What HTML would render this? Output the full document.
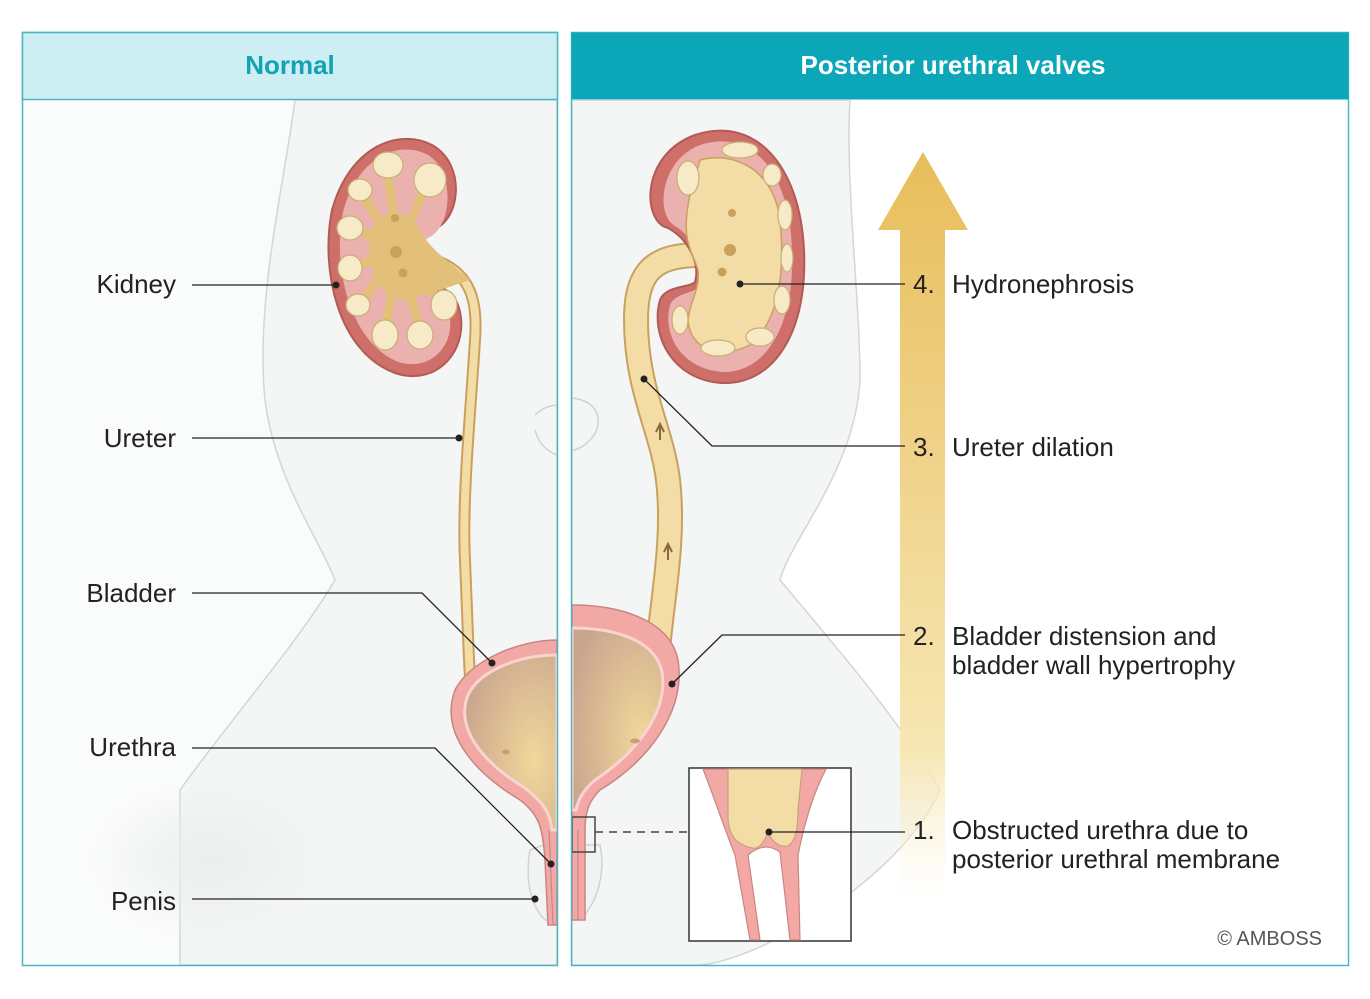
<!DOCTYPE html>
<html><head><meta charset="utf-8"><style>
html,body{margin:0;padding:0;background:#fff;}
svg{display:block;font-family:"Liberation Sans",sans-serif;}
</style></head><body>
<svg width="1370" height="999" viewBox="0 0 1370 999" xmlns="http://www.w3.org/2000/svg">
<defs>
<linearGradient id="arr" x1="0" y1="0" x2="0" y2="1">
<stop offset="0" stop-color="#e8bd5a"/><stop offset="0.45" stop-color="#f0d58e"/><stop offset="0.8" stop-color="#f7e7b4"/><stop offset="1" stop-color="#fbf3dc" stop-opacity="0"/>
</linearGradient>
<radialGradient id="blad" cx="0.75" cy="0.6" r="0.8">
<stop offset="0" stop-color="#f1d79a"/><stop offset="1" stop-color="#c9a58e"/>
</radialGradient>
<radialGradient id="shadow" cx="0.5" cy="0.5" r="0.5">
<stop offset="0" stop-color="#eceeee"/><stop offset="1" stop-color="#eceeee" stop-opacity="0"/>
</radialGradient>
<clipPath id="cl"><rect x="23" y="100" width="534" height="865"/></clipPath>
<clipPath id="cr"><rect x="572" y="100" width="776" height="865"/></clipPath>
</defs>
<rect width="1370" height="999" fill="#fff"/>
<!-- Left panel -->
<g clip-path="url(#cl)">
<rect x="23" y="100" width="534" height="865" fill="#fafbfb"/>
<path d="M295 100 C285 180 255 300 265 400 C275 480 320 540 335 580 C300 640 230 720 180 790 L180 965 L557 965 L557 100 Z" fill="#f4f6f6" stroke="#d3d6d6" stroke-width="1.5"/>
<ellipse cx="210" cy="860" rx="120" ry="80" fill="url(#shadow)"/>
<path d="M535 415 C545 405 557 405 557 405 M535 430 C540 450 557 455 557 455" fill="none" stroke="#cfd3d3" stroke-width="1.5"/>
<path d="M530 850 C525 880 530 905 545 920 L557 920 L557 840 Z" fill="#f1f2f2" stroke="#cfd3d3" stroke-width="1.5"/>
<!-- ureter -->
<path d="M440 262 C470 275 478 300 475 340 C470 420 462 500 465 560 C467 610 468 640 470 680" fill="none" stroke="#c9a15c" stroke-width="12"/>
<path d="M440 262 C470 275 478 300 475 340 C470 420 462 500 465 560 C467 610 468 640 470 680" fill="none" stroke="#f3dca6" stroke-width="8"/>
<!-- kidney -->
<path d="M430 230 C460 225 468 165 432 145 C400 128 350 145 332 210 C320 270 338 352 395 373 C440 388 472 345 458 305 C450 285 430 285 420 275 C415 260 415 240 430 230 Z" fill="#cf6f6a" stroke="#b35a56" stroke-width="2"/>
<path d="M428 238 C452 228 456 172 428 155 C400 140 358 155 343 212 C332 268 350 342 398 362 C434 373 458 340 448 310 C440 295 424 292 412 282 C405 265 410 248 428 238 Z" fill="#eab1ae"/>
<g stroke="#e2c07a" stroke-width="9" stroke-linecap="round" fill="none">
<path d="M398 250 L388 172"/><path d="M398 250 L425 188"/><path d="M398 250 L362 195"/><path d="M398 250 L355 228"/>
<path d="M398 250 L352 268"/><path d="M398 250 L362 302"/><path d="M398 250 L386 330"/><path d="M398 250 L420 330"/><path d="M398 250 L440 302"/>
</g>
<path d="M370 230 C385 205 410 210 420 230 C430 250 450 262 470 280 L440 290 C420 295 410 300 400 300 C380 295 365 270 370 230 Z" fill="#e2c07a"/>
<g fill="#f7ebc7" stroke="#c9ad77" stroke-width="1.2">
<ellipse cx="388" cy="165" rx="15" ry="13"/><ellipse cx="430" cy="180" rx="16" ry="17"/>
<ellipse cx="360" cy="190" rx="12" ry="11"/><ellipse cx="350" cy="228" rx="13" ry="12"/>
<ellipse cx="350" cy="268" rx="12" ry="13"/><ellipse cx="358" cy="305" rx="12" ry="11"/>
<ellipse cx="385" cy="335" rx="13" ry="15"/><ellipse cx="420" cy="335" rx="13" ry="14"/>
<ellipse cx="444" cy="305" rx="13" ry="15"/>
</g>
<g fill="#c9a15c"><circle cx="395" cy="218" r="4"/><circle cx="396" cy="252" r="6"/><circle cx="403" cy="273" r="4.5"/></g>
<!-- bladder -->
<path d="M557 640 C520 640 470 660 455 690 C440 730 470 770 520 800 C540 815 543 830 545 860 L548 925 L557 925 Z" fill="#f2a9a5" stroke="#c98582" stroke-width="1.5"/>
<path d="M557 655 C520 655 480 670 468 695 C455 728 482 762 525 788 C540 800 550 810 552 830 L557 830 Z" fill="url(#blad)" stroke="#fad4d0" stroke-width="3"/>
<path d="M549 830 L553 925" stroke="#c98582" stroke-width="1.2"/>
<ellipse cx="506" cy="752" rx="4" ry="2.5" fill="#c7a07a"/>
</g>
<!-- Right panel -->
<g clip-path="url(#cr)">
<rect x="572" y="100" width="776" height="865" fill="#fff"/>
<path d="M572 100 L850 100 C845 180 860 300 860 380 C855 470 790 540 780 580 C830 640 900 720 940 790 C900 880 760 960 700 965 L572 965 Z" fill="#f4f6f6" stroke="#d3d6d6" stroke-width="1.5"/>
<path d="M572 398 C590 400 600 410 598 425 C595 440 580 450 572 450" fill="none" stroke="#cfd3d3" stroke-width="1.5"/>
<path d="M572 845 L600 845 C605 870 600 900 580 920 L572 920 Z" fill="#f1f2f2" stroke="#cfd3d3" stroke-width="1.5"/>
<!-- arrow -->
<path d="M923 152 L968 230 L945 230 L945 900 L900 900 L900 230 L878 230 Z" fill="url(#arr)"/>
<!-- dilated ureter -->
<path d="M700 255 C655 255 636 270 636 320 C636 390 662 430 668 480 C675 540 662 600 658 650" fill="none" stroke="#c9a15c" stroke-width="26"/>
<path d="M700 255 C655 255 636 270 636 320 C636 390 662 430 668 480 C675 540 662 600 658 650" fill="none" stroke="#f3dca6" stroke-width="22"/>
<path d="M660 440 L660 425 M656 432 L660 424 L664 432 M668 560 L668 545 M664 552 L668 544 L672 552" stroke="#8a6b3a" stroke-width="2" fill="none"/>
<!-- kidney -->
<path d="M668 228 C642 222 640 155 695 135 C755 115 800 165 804 250 C808 330 775 385 722 383 C672 380 650 335 660 300 C666 285 690 288 695 282 C700 265 690 240 668 228 Z" fill="#cf6f6a" stroke="#b35a56" stroke-width="2"/>
<path d="M675 226 C655 215 660 160 700 145 C752 128 790 172 792 250 C795 322 768 372 724 372 C682 370 662 335 670 305 C676 292 694 294 700 286 C706 265 695 238 675 226 Z" fill="#eab1ae"/>
<path d="M700 160 C740 150 775 175 780 220 C785 270 780 320 750 345 C720 360 690 350 688 320 C690 300 700 290 698 270 C692 250 680 240 690 195 Z" fill="#f3dca6" stroke="#c9a15c" stroke-width="1.5"/>
<g fill="#f7ebc7" stroke="#c9ad77" stroke-width="1.2">
<ellipse cx="688" cy="178" rx="11" ry="17"/><ellipse cx="740" cy="150" rx="18" ry="8"/>
<ellipse cx="772" cy="175" rx="9" ry="11"/><ellipse cx="785" cy="215" rx="7" ry="15"/>
<ellipse cx="787" cy="258" rx="6" ry="14"/><ellipse cx="782" cy="300" rx="8" ry="14"/>
<ellipse cx="760" cy="337" rx="14" ry="9"/><ellipse cx="718" cy="348" rx="17" ry="8"/>
<ellipse cx="680" cy="320" rx="8" ry="14"/>
</g>
<g fill="#c9a15c"><circle cx="732" cy="213" r="4"/><circle cx="730" cy="250" r="6"/><circle cx="722" cy="272" r="4.5"/></g>
<!-- bladder -->
<path d="M572 605 C620 605 670 620 678 660 C686 710 650 760 600 790 C590 800 585 810 585 830 L585 920 L572 920 Z" fill="#f2a9a5" stroke="#c98582" stroke-width="1.5"/>
<path d="M572 628 C615 628 655 640 662 672 C668 710 640 750 595 780 C583 790 578 800 576 810 L572 810 Z" fill="url(#blad)" stroke="#fad4d0" stroke-width="3"/>
<ellipse cx="635" cy="741" rx="5" ry="2.5" fill="#c7a07a"/>
<path d="M578 830 L578 920" stroke="#c98582" stroke-width="1.2"/>
<rect x="572" y="817" width="23" height="35" fill="none" stroke="#444" stroke-width="1.5"/>
</g>
<!-- inset -->
<rect x="689" y="768" width="162" height="173" fill="#fff" stroke="#333" stroke-width="1.5"/>
<path d="M703 769 C715 800 725 830 735 855 L750 940 L760 940 L748 855 C760 845 770 845 780 852 L790 940 L800 940 L798 855 C805 820 815 790 826 769 Z" fill="#f2a9a5" stroke="#c98582" stroke-width="1.2"/>
<path d="M728 769 L728 820 C730 840 740 845 752 848 C760 850 765 840 768 832 C771 840 778 848 788 846 C797 840 798 825 798 810 L802 769 Z" fill="#f3dca6" stroke="#c9a080" stroke-width="1.2"/>
<line x1="595" y1="832" x2="689" y2="832" stroke="#444" stroke-width="1.5" stroke-dasharray="8,6"/>
<!-- borders & headers -->
<rect x="22.5" y="32.5" width="535" height="933" fill="none" stroke="#4cb6c4" stroke-width="1.5"/>
<rect x="571.5" y="32.5" width="777" height="933" fill="none" stroke="#4cb6c4" stroke-width="1.5"/>
<rect x="22.5" y="32.5" width="535" height="67" fill="#cdeef2" stroke="#4cb6c4" stroke-width="1.5"/>
<rect x="571.5" y="32.5" width="777" height="67" fill="#0ba6b8"/>
<text x="290" y="74" text-anchor="middle" font-size="26" font-weight="bold" fill="#14a3b4">Normal</text>
<text x="953" y="74" text-anchor="middle" font-size="26" font-weight="bold" fill="#fff">Posterior urethral valves</text>
<!-- left labels -->
<g font-size="26" fill="#222" text-anchor="end">
<text x="176" y="293">Kidney</text><text x="176" y="447">Ureter</text>
<text x="176" y="602">Bladder</text><text x="176" y="756">Urethra</text>
<text x="176" y="910">Penis</text>
</g>
<g stroke="#222" stroke-width="1.3" fill="none">
<path d="M192 285 L336 285"/><path d="M192 438 L459 438"/>
<path d="M192 593 L422 593 L492 663"/><path d="M192 748 L435 748 L551 864"/>
<path d="M192 899 L535 899"/>
<path d="M740 284 L905 284"/><path d="M644 379 L712 446 L905 446"/>
<path d="M672 684 L722 635 L905 635"/><path d="M769 832 L905 832"/>
</g>
<g fill="#222">
<circle cx="336" cy="285" r="3.5"/><circle cx="459" cy="438" r="3.5"/><circle cx="492" cy="663" r="3.5"/>
<circle cx="551" cy="864" r="3.5"/><circle cx="535" cy="899" r="3.5"/>
<circle cx="740" cy="284" r="3.5"/><circle cx="644" cy="379" r="3.5"/><circle cx="672" cy="684" r="3.5"/><circle cx="769" cy="832" r="3.5"/>
</g>
<g font-size="26" fill="#222">
<text x="913" y="293">4.</text><text x="952" y="293">Hydronephrosis</text>
<text x="913" y="456">3.</text><text x="952" y="456">Ureter dilation</text>
<text x="913" y="645">2.</text><text x="952" y="645">Bladder distension and</text><text x="952" y="674">bladder wall hypertrophy</text>
<text x="913" y="839">1.</text><text x="952" y="839">Obstructed urethra due to</text><text x="952" y="868">posterior urethral membrane</text>
</g>
<text x="1322" y="945" text-anchor="end" font-size="20" fill="#555">© AMBOSS</text>
</svg>
</body></html>
